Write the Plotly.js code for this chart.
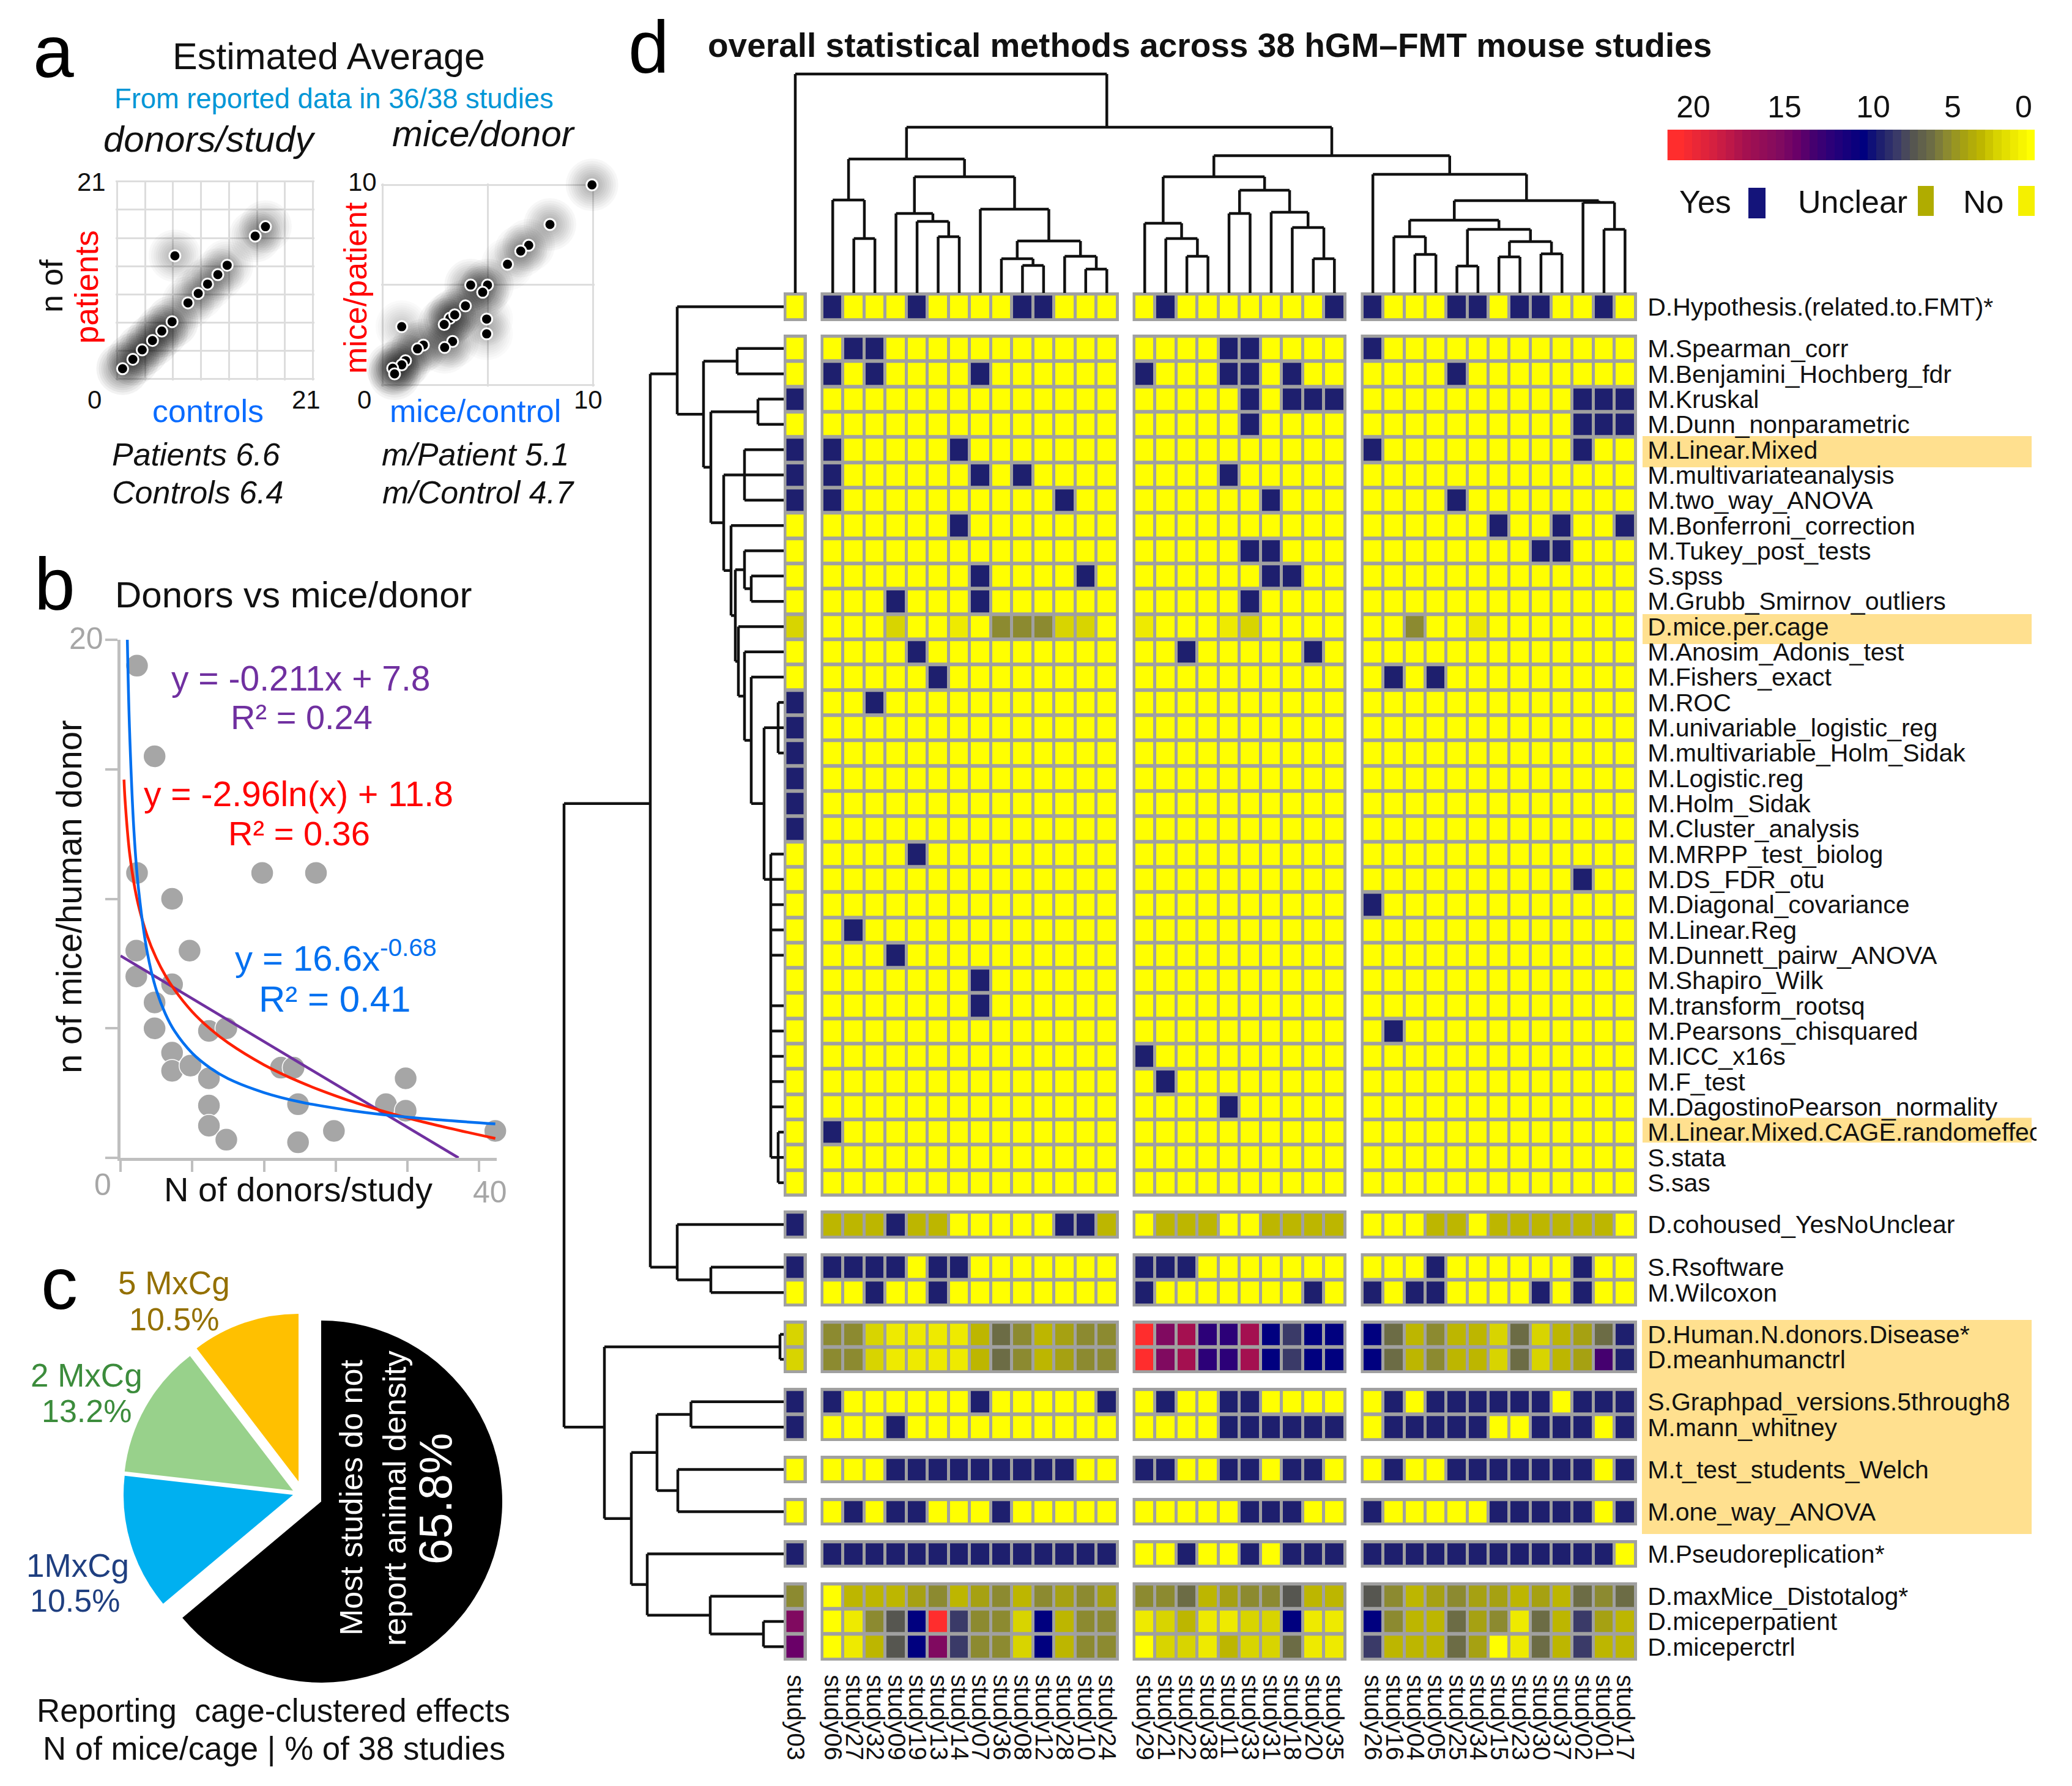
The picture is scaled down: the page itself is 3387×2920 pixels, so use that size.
<!DOCTYPE html>
<html><head><meta charset="utf-8">
<script src="https://cdn.plot.ly/plotly-3.0.1.min.js"></script>
<style>html,body{margin:0;padding:0;background:#fff}</style></head>
<body><div id="chart" style="width:3387px;height:2920px"></div>
<script>
/* ---------- DATA ---------- */
const studiesA=['study03'];
const studiesB=['study06','study27','study32','study09','study19','study13','study14','study07','study36','study08','study12','study28','study10','study24'];
const studiesC=['study29','study21','study22','study38','study11','study33','study31','study18','study20','study35'];
const studiesD=['study26','study16','study04','study05','study25','study34','study15','study23','study30','study37','study02','study01','study17'];

/* cell codes, base 36: 0 = No, 3 = Unclear, 9 = Yes, other = count read from the colour key */
const labelsHyp=['D.Hypothesis.(related.to.FMT)*'];
const rowsHyp=['0 90009000099000 0900000009 9000990990090'];
const labelsMain=['M.Spearman_corr','M.Benjamini_Hochberg_fdr','M.Kruskal','M.Dunn_nonparametric','M.Linear.Mixed','M.multivariateanalysis','M.two_way_ANOVA','M.Bonferroni_correction','M.Tukey_post_tests','S.spss','M.Grubb_Smirnov_outliers','D.mice.per.cage','M.Anosim_Adonis_test','M.Fishers_exact','M.ROC','M.univariable_logistic_reg','M.multivariable_Holm_Sidak','M.Logistic.reg','M.Holm_Sidak','M.Cluster_analysis','M.MRPP_test_biolog','M.DS_FDR_otu','M.Diagonal_covariance','M.Linear.Reg','M.Dunnett_pairw_ANOVA','M.Shapiro_Wilk','M.transform_rootsq','M.Pearsons_chisquared','M.ICC_x16s','M.F_test','M.DagostinoPearson_normality','M.Linear.Mixed.CAGE.randomeffec','S.stata','S.sas'];
const rowsMain=[
'0 09900000000000 0000990000 9000000000000',
'0 90900009000000 9000990900 0000900000000',
'9 00000000000000 0000090999 0000000000999',
'0 00000000000000 0000090000 0000000000999',
'9 90000090000000 0000000000 9000000000900',
'9 90000009090000 0000900000 0000000000000',
'9 90000000000900 0000009000 0000900000000',
'0 00000090000000 0000000000 0000009009009',
'0 00000000000000 0000099000 0000000099000',
'0 00000009000090 0000009900 0000000000000',
'0 00090009000000 0000090000 0000000000000',
'2 00020010555220 1000120000 0050010000000',
'0 00009000000000 0090000090 0000000000000',
'0 00000900000000 0000000000 0909000000000',
'9 00900000000000 0000000000 0000000000000',
'9 00000000000000 0000000000 0000000000000',
'9 00000000000000 0000000000 0000000000000',
'9 00000000000000 0000000000 0000000000000',
'9 00000000000000 0000000000 0000000000000',
'9 00000000000000 0000000000 0000000000000',
'0 00009000000000 0000000000 0000000000000',
'0 00000000000000 0000000000 0000000000900',
'0 00000000000000 0000000000 9000000000000',
'0 09000000000000 0000000000 0000000000000',
'0 00090000000000 0000000000 0000000000000',
'0 00000009000000 0000000000 0000000000000',
'0 00000009000000 0000000000 0000000000000',
'0 00000000000000 0000000000 0900000000000',
'0 00000000000000 9000000000 0000000000000',
'0 00000000000000 0900000000 0000000000000',
'0 00000000000000 0000900000 0000000000000',
'0 90000000000000 0000000000 0000000000000',
'0 00000000000000 0000000000 0000000000000',
'0 00000000000000 0000000000 0000000000000'];
const labelsCohoused=['D.cohoused_YesNoUnclear'];
const rowsCohoused=['9 33393300000993 0333003333 0003303333330'];
const labelsSoft=['S.Rsoftware','M.Wilcoxon'];
const rowsSoft=['9 99990990000000 9990000000 0009000000900','0 00900900000000 9000000090 9099000090900'];
const labelsHuman=['D.Human.N.donors.Disease*','D.meanhumanctrl'];
const rowsHuman=['2 55211113653455 lfhccha8aa a635332623469','2 55211113653455 lfhccha8aa a6353326234d9'];
const labelsGraph=['S.Graphpad_versions.5through8','M.mann_whitney'];
const rowsGraph=['9 90000009000009 0900990000 0909999990999','9 00090000000000 0000999999 0999990099909'];
const labelsT=['M.t_test_students_Welch'];
const rowsT=['0 00099999999900 9900990990 0900999999909'];
const labelsOne=['M.one_way_ANOVA'];
const rowsOne=['0 09099000900000 0000099900 9000009999909'];
const labelsPseudo=['M.Pseudoreplication*'];
const rowsPseudo=['9 99999999999999 0090090999 9999999999990'];
const labelsMax=['D.maxMice_Distotalog*','D.miceperpatient','D.miceperctrl'];
const rowsMax=['5 03334534535454 5563455733 7534544343656','f 0157al8552a355 1231122a11 a533645163843','e 0137af8552a355 0221322611 8333640163833'];

/* colour key */
const keyValues=[0,1,2,3,4,5,6,7,8,9,10,12,13,14,15,17,19,21];
const keyColors=['#ffff00','#eeea00','#d8d400','#bdb600','#a6a112','#8c8a30','#6c6c45','#565650','#3a3a68','#1e1f6e','#00007f','#2c0078','#45006f','#6a0068','#800a60','#a41050','#d52040','#ff2d2d'];
const keySteps=[21.5,21,20.5,20,19.5,19,18.5,18,17.5,17,16.5,16,15.5,15,14.5,14,13.5,13,12.5,12,11.5,11,10.5,10,9.5,9,8.5,8,7.5,7,6.5,6,5.5,5,4.5,4,3.5,3,2.5,2,1.5,1,0.5,0];
const keyTickAt=[20.19,14.73,9.42,4.66,0.41];
const keyTickText=['20','15','10','5','0'];

/* column dendrogram: [merge height, [children], optional leaf the parent branch joins at] */
const colB=[219,[[152,[1,[89,[2,3]]]],[190,[[130,[4,[117,[5,[92,[6,7]]]]]],[137,[8,[85,[[56,[9,[45,[10,11]]]],[60,[12,[39,[13,14]]]]]]]]]]]];
const colC=[190,[[114,[15,[89,[16,[60,[17,18]]]]]],[168,[[130,[19,20]],[132,[21,[107,[22,[56,[23,24]]]]]]]]]];
const colDleft=[119,[[92,[26,[63,[27,28]]]],[104,[[44,[29,30]],[84,[[59,[31,32]],[64,[33,34]]]]]]]];
const colDright=[148,[35,[104,[36,37]]]];
const colD=[194,[25,[151,[colDleft,colDright]]]];
const colTree=[358,[0,[271,[colB,[224.5,[colC,colD]]],14]]];

/* row dendrogram: children = row index, optional third item = row the parent branch joins at */
const rowFan=[21,[21,22,23,24,25,27,28,29,30,31,[9,[32,33,34]]],22];
const rowChain=[53,[14,[32,[[9,[15,16,17]],rowFan]]]];
const rowV=[79,[[64,[9,[53,[10,11]]]],[74,[12,[64,[13,rowChain]]]]]];
const rowUpper=[174,[0,[131,[[76,[1,2]],[119,[[42,[3,4]],[98,[[64,[5,6,7]],[86,[8,rowV]]]]]]]]],2];
const rowMiddle=[174,[35,[119,[36,37]]],36];
const rowLower=[293,[[6,[38,39]],[249,[[207,[[151.5,[40,41]],[173,[42,43]]]],[223,[44,[120,[45,[33,[46,47]]]]]]]]],41];
const rowTree=[359,[[218,[rowUpper,rowMiddle],19],rowLower]];

/* panel a: dot positions and how heavily studies pile up at each dot (drives the density shading) */
const donorsControls=[0.6,1.7,2.7,3.8,4.8,5.9,7.6,8.7,9.7,10.8,11.8,14.8,15.9,6.2,20.8];
const donorsPatients=[1.1,2.1,3.1,4.1,5.1,6.1,8.1,9.1,10.1,11.1,12.1,15.2,16.2,13.1,21.2];
const donorsPile=[6,6,6,6,6,6,3,3,3,3,3,3.5,3.5,3,3.5];
const miceControl=[9.96,7.96,6.95,6.57,5.94,4.99,4.19,4.76,3.94,4.95,4.95,3.2,3.43,2.93,0.91,3.33,2.95,1.94,1.66,1.09,0.91,0.48,0.57];
const micePatient=[10,8.02,6.98,6.69,6.03,4.99,4.99,4.63,3.95,3.29,2.55,3.33,3.5,3.02,2.91,2.17,1.87,1.99,1.8,1.21,1,0.83,0.55];
const micePile=[3.5,3.5,3,3,2.5,4,4,4,3.5,2.5,2.5,4.5,4.5,4.5,2.5,3,3,3.5,3.5,4,4,5,5];

/* panel b */
const nDonors=[1.84,3.8,1.84,5.75,15.8,21.8,1.76,7.7,1.76,5.75,3.8,3.8,5.75,5.75,7.8,9.86,11.8,9.86,9.86,9.86,11.8,19.8,19.8,17.9,19.3,23.8,29.6,31.8,31.8,41.8];
const nMice=[19,15.5,11,10,11,11,8,8,7,6.7,6,5,4.06,3.36,3.56,4.9,5,3.07,2.02,1.24,0.7,2.07,0.6,3.48,3.48,1.04,2.07,3.07,1.82,1.04];
const linX=[0,37.7], linY=[7.8,0];
const logX=[0.39,0.5,1,1.5,2,3,4,5,6,8,10,12,16,20,25,30,35,41.8];
const logY=[14.6,13.85,11.8,10.6,9.75,8.55,7.7,7.04,6.5,5.64,4.98,4.44,3.59,2.93,2.27,1.73,1.28,0.75];
const powX=[0.76,1,1.5,2,3,4,5,6,8,10,12,16,20,25,30,35,41.8];
const powY=[20,16.6,12.6,10.4,7.9,6.47,5.56,4.91,4.04,3.47,3.06,2.52,2.16,1.86,1.64,1.48,1.31];

/* panel c: slice shares as drawn */
const pieLabels=['No density reported','1 MxCg','2 MxCg','5 MxCg'];
const pieShares=[63.9,12.9,12.8,10.4];

/* ---------- LAYOUT ---------- */
const W=3387,H=2920,FONT='Liberation Sans';
const fx=x=>x/W, fy=y=>1-y/H;
const XPAD=2.5,YPAD=2.2,XGAP=5,YGAP=6;
const groups=[
 {st:studiesA,x0:1281,x1:1319},{st:studiesB,x0:1341.5,x1:1829},
 {st:studiesC,x0:1851.5,x1:2201},{st:studiesD,x0:2224.5,x1:2676}];
const blocks=[
 {labels:labelsHyp,rows:rowsHyp,y0:478,y1:525},
 {labels:labelsMain,rows:rowsMain,y0:547,y1:1956.5},
 {labels:labelsCohoused,rows:rowsCohoused,y0:1979,y1:2025},
 {labels:labelsSoft,rows:rowsSoft,y0:2049,y1:2136},
 {labels:labelsHuman,rows:rowsHuman,y0:2159,y1:2245},
 {labels:labelsGraph,rows:rowsGraph,y0:2269,y1:2356},
 {labels:labelsT,rows:rowsT,y0:2380,y1:2425},
 {labels:labelsOne,rows:rowsOne,y0:2449,y1:2494},
 {labels:labelsPseudo,rows:rowsPseudo,y0:2518,y1:2563},
 {labels:labelsMax,rows:rowsMax,y0:2587,y1:2715}];

const traces=[],shapes=[],annotations=[];
const layout={width:W,height:H,margin:{l:0,r:0,t:0,b:0},paper_bgcolor:'#fff',plot_bgcolor:'rgba(0,0,0,0)',
  showlegend:false,hovermode:false,dragmode:false,font:{family:FONT,color:'#111'}};
const hidden={showgrid:false,zeroline:false,showline:false,showticklabels:false,ticks:''};
const colorscale=keyValues.map((v,i)=>[v/21,keyColors[i]]);
const rect=(x0,y0,x1,y1,c,lay)=>shapes.push({type:'rect',xref:'paper',yref:'paper',x0:fx(x0),x1:fx(x1),y0:fy(y1),y1:fy(y0),fillcolor:c,line:{width:0},layer:lay||'below'});

/* label highlights */
const HL='#ffe08f';
rect(2685,713,3321,764,HL);rect(2685,1004,3321,1053,HL);rect(2685,1827.5,3321,1868,HL);rect(2684,2158,3321,2508,HL);
/* the reference crops the longest row label at this edge */
rect(3329,1825,3387,1870,'#ffffff','above');

const axName=(p,i)=>p+'axis'+(i===1?'':i), axRef=(p,i)=>p+(i===1?'':i);
const lastBlock=blocks.length;

groups.forEach((g,gi)=>{
  const n=g.st.length,pitch=(g.x1-g.x0-2*XPAD)/n,m=XPAD/pitch;g.pitch=pitch;
  layout[axName('x',gi+1)]=Object.assign({},hidden,{type:'category',categoryorder:'array',categoryarray:g.st,
    domain:[fx(g.x0),fx(g.x1)],range:[-0.5-m,n-0.5+m],anchor:axRef('y',lastBlock),side:'bottom',
    showticklabels:true,tickmode:'linear',tick0:0,dtick:1,tickangle:90,ticks:'outside',ticklen:14,tickcolor:'rgba(0,0,0,0)',
    tickfont:{family:FONT,size:40,color:'#111'}});
});
let cursor=0;
blocks.forEach((b,bi)=>{
  const n=b.labels.length,pitch=(b.y1-b.y0-2*YPAD)/n,m=YPAD/pitch;b.pitch=pitch;b.start=cursor;cursor+=n;
  layout[axName('y',bi+1)]=Object.assign({},hidden,{type:'category',categoryorder:'array',categoryarray:b.labels,
    domain:[fy(b.y1),fy(b.y0)],range:[n-0.5+m,-0.5-m],anchor:axRef('x',groups.length),side:'right',
    showticklabels:true,tickmode:'linear',tick0:0,dtick:1,ticks:'outside',ticklen:8,tickcolor:'rgba(0,0,0,0)',
    tickfont:{family:FONT,size:41,color:'#111'}});
  const codes=b.rows.map(r=>r.replace(/ /g,'').split('').map(c=>parseInt(c,36)));
  let offset=0;
  groups.forEach((g,gi)=>{
    const n2=g.st.length;
    rect(g.x0,b.y0,g.x1,b.y1,'#a0a0a0');
    traces.push({type:'heatmap',x:g.st,y:b.labels,z:codes.map(r=>r.slice(offset,offset+n2)),
      xaxis:axRef('x',gi+1),yaxis:axRef('y',bi+1),colorscale,zmin:0,zmax:21,showscale:false,
      xgap:XGAP,ygap:YGAP,hoverinfo:'skip'});
    offset+=n2;
  });
});

let axisId=blocks.length+1, xId=groups.length+1;
function addAxes(xo,yo){
  const xi=xId++,yi=axisId++;
  layout[axName('x',xi)]=Object.assign({},hidden,xo,{anchor:axRef('y',yi)});
  layout[axName('y',yi)]=Object.assign({},hidden,yo,{anchor:axRef('x',xi)});
  return {x:axRef('x',xi),y:axRef('y',yi)};
}

/* dendrograms */
const colCenter=i=>{let k=i;for(const g of groups){const n=g.st.length;if(k<n)return g.x0+XPAD+g.pitch*(k+0.5);k-=n;}};
const rowCenter=i=>{for(const b of blocks){const n=b.labels.length;if(i<b.start+n)return b.y0+YPAD+b.pitch*(i-b.start+0.5);}};
function walk(node,place,emit){
  if(typeof node==='number')return {pos:place(node),h:0};
  const kids=node[1].map(k=>walk(k,place,emit));
  const h=node[0],ps=kids.map(k=>k.pos);
  kids.forEach(k=>emit(k.pos,k.h,k.pos,h));
  emit(Math.min(...ps),h,Math.max(...ps),h);
  const pos=node[2]!==undefined?place(node[2]):(ps[0]+ps[ps.length-1])/2;
  return {pos,h};
}
{
  const a=addAxes({domain:[0,1],range:[0,W]},{domain:[fy(479),1],range:[0,479]});
  const xs=[],ys=[];
  walk(colTree,colCenter,(p0,h0,p1,h1)=>{xs.push(p0,p1,null);ys.push(h0,h1,null);});
  traces.push({type:'scatter',mode:'lines',x:xs,y:ys,xaxis:a.x,yaxis:a.y,line:{color:'#111',width:4.5},hoverinfo:'skip'});
  const b=addAxes({domain:[0,fx(1281)],range:[1281,0]},{domain:[0,1],range:[H,0]});
  const xr=[],yr=[];
  walk(rowTree,rowCenter,(p0,h0,p1,h1)=>{xr.push(h0,h1,null);yr.push(p0,p1,null);});
  traces.push({type:'scatter',mode:'lines',x:xr,y:yr,xaxis:b.x,yaxis:b.y,line:{color:'#111',width:4.5},hoverinfo:'skip'});
}

/* colour key */
{
  const a=addAxes({domain:[fx(2725.5),fx(3326)],range:[21.75,-0.25],side:'top',showticklabels:true,tickmode:'array',tickvals:keyTickAt,ticktext:keyTickText,
      ticks:'',ticklabelstandoff:9,tickfont:{family:FONT,size:50,color:'#111'}},
    {domain:[fy(262),fy(212)],range:[-0.5,0.5]});
  traces.push({type:'heatmap',x:keySteps,y:[0],z:[keySteps],xaxis:a.x,yaxis:a.y,colorscale,zmin:0,zmax:21,showscale:false,hoverinfo:'skip'});
}
/* legend swatches */
rect(2858,307,2886,357,'#14147a');rect(3135,304,3161,353,'#b0ac00');rect(3299,304,3326,353,'#f5f000');

/* panel a scatters with soft density halos */
const haloSizes=[86,78,70,63,56,49,42,35,28];
function panelA(xv,yv,pile,xdom,ydom,rng,step){
  const e=rng*0.007;
  const a=addAxes({domain:[fx(xdom[0]),fx(xdom[1])],range:[-e,rng+e],showgrid:true,gridcolor:'#dddddd',gridwidth:3,tick0:0,dtick:step},
                  {domain:[fy(ydom[1]),fy(ydom[0])],range:[-e,rng+e],showgrid:true,gridcolor:'#dddddd',gridwidth:3,tick0:0,dtick:step});
  haloSizes.forEach(s=>traces.push({type:'scatter',mode:'markers',x:xv,y:yv,xaxis:a.x,yaxis:a.y,cliponaxis:false,
    marker:{size:s,color:'#000',opacity:pile.map(w=>0.0085*w),line:{width:0}},hoverinfo:'skip'}));
  traces.push({type:'scatter',mode:'markers',x:xv,y:yv,xaxis:a.x,yaxis:a.y,cliponaxis:false,
    marker:{size:18,color:'#000',line:{color:'#fff',width:3}},hoverinfo:'skip'});
}
panelA(donorsControls,donorsPatients,donorsPile,[189,514],[294.5,622],21,3);
panelA(miceControl,micePatient,micePile,[623,971.5],[300,631.5],10,5);

/* panel b */
{
  const GR='#bfbfbf';
  const a=addAxes({domain:[fx(197),fx(812)],range:[0,41.96],tickmode:'array',tickvals:[0,8,16,24,32,40],ticks:'outside',ticklen:18,tickwidth:4,tickcolor:GR,showline:true,linecolor:GR,linewidth:5},
    {domain:[fy(1893),fy(1046)],range:[0,20],tickmode:'array',tickvals:[0,5,10,15,20],ticks:'outside',ticklen:20,tickwidth:4,tickcolor:GR,showline:true,linecolor:GR,linewidth:5});
  traces.push({type:'scatter',mode:'markers',x:nDonors,y:nMice,xaxis:a.x,yaxis:a.y,cliponaxis:false,marker:{size:37,color:'#a6a6a6',line:{color:'#fff',width:1.5}},hoverinfo:'skip'});
  traces.push({type:'scatter',mode:'lines',x:linX,y:linY,xaxis:a.x,yaxis:a.y,cliponaxis:false,line:{color:'#7030a0',width:4.5},hoverinfo:'skip'});
  traces.push({type:'scatter',mode:'lines',x:logX,y:logY,xaxis:a.x,yaxis:a.y,cliponaxis:false,line:{color:'#ff2000',width:4.5,shape:'spline'},hoverinfo:'skip'});
  traces.push({type:'scatter',mode:'lines',x:powX,y:powY,xaxis:a.x,yaxis:a.y,cliponaxis:false,line:{color:'#0070f0',width:4.5,shape:'spline'},hoverinfo:'skip'});
}

/* panel c: exploded pie, one trace per slice so each sits where it was drawn */
function slice(idx,cx,cy,r,color){
  const colors=pieShares.map((_,i)=>i===idx?color:'rgba(0,0,0,0)');
  traces.push({type:'pie',labels:pieLabels,values:pieShares,sort:false,direction:'clockwise',rotation:0,textinfo:'none',hoverinfo:'skip',
    marker:{colors,line:{width:0}},domain:{x:[fx(cx-r),fx(cx+r)],y:[fy(cy+r),fy(cy-r)]}});
}
slice(0,525,2455,296,'#000000');
slice(1,479,2444,277,'#00b0f0');
slice(2,479,2437,277,'#98d18b');
slice(3,488,2422,274,'#ffc000');

/* ---------- TEXT ---------- */
function T(text,x,y,size,color,o){
  annotations.push(Object.assign({text,xref:'paper',yref:'paper',x:fx(x),y:fy(y),xanchor:'center',yanchor:'middle',showarrow:false,
    font:{family:FONT,size,color:color||'#111'}},o||{}));
}
const IT=s=>'<i>'+s+'</i>';
T('a',87,84,120,'#000');T('b',89,954,120,'#000');T('c',97,2098,120,'#000');T('d',1060,76,120,'#000');
T('Estimated Average',537,92,61);
T('From reported data in 36/38 studies',546,161,45.3,'#0096d6');
T(IT('donors/study'),343,227,60);T(IT('mice/donor'),790,219,60);
T('21',149,297,42);T('0',154.5,654,42);T('21',500,653,42);
T('controls',340,672,52,'#0a6cff');
T('n of',84,468,52,'#111',{textangle:-90});T('patients',142,469,53,'#ff0000',{textangle:-90});
T(IT('Patients 6.6'),320,743,52);T(IT('Controls 6.4'),323,805,52);
T(IT('m/Patient 5.1'),777,743,52);T(IT('m/Control 4.7'),782,805,52);
T('10',592,297,42);T('0',595,654,42);T('10',961.5,653,42);
T('mice/control',777,672,52,'#0a6cff');T('mice/patient',581,471,52,'#ff0000',{textangle:-90});

T('Donors vs mice/donor',480,972,60);
T('N of donors/study',488,1944,56);
T('n of mice/human donor',113,1466,56.5,'#111',{textangle:-90});
T('20',141,1044,50,'#a6a6a6');T('0',168,1937,50,'#a6a6a6');T('40',801,1949,50,'#a6a6a6');
T('y = -0.211x + 7.8',492,1109,57,'#7030a0');T('R² = 0.24',492.5,1172,56,'#7030a0');
T('y = -2.96ln(x) + 11.8',488,1298,57,'#ff0000');T('R² = 0.36',488.5,1362,56,'#ff0000');
T('y = 16.6x<sup>-0.68</sup>',548,1563,58,'#0070f0');T('R² = 0.41',546.5,1633,60,'#0070f0');

T('5 MxCg',284,2097,53,'#947000');T('10.5%',284,2157,52,'#947000');
T('2 MxCg',141,2248,53,'#3c8c3c');T('13.2%',141,2307,52,'#3c8c3c');
T('1MxCg',127,2559,53,'#1f3f80');T('10.5%',123,2617,52,'#1f3f80');
T('Most studies do not',574,2449,52,'#fff',{textangle:-90});
T('report animal density',645,2450,52,'#fff',{textangle:-90});
T('65.8%',711,2450,76,'#fff',{textangle:-90});
T('Reporting\u00a0 cage-clustered effects',447,2796,52.8);
T('N of mice/cage | % of 38 studies',448,2858,52.8);

T('<b>overall statistical methods across 38 hGM–FMT mouse studies</b>',1977,74,55,'#111');
T('Yes',2787,330,52);T('Unclear',3028,330,52);T('No',3242,330,52);

layout.shapes=shapes;layout.annotations=annotations;
Plotly.newPlot('chart',traces,layout,{staticPlot:true,displayModeBar:false});
</script></body></html>
